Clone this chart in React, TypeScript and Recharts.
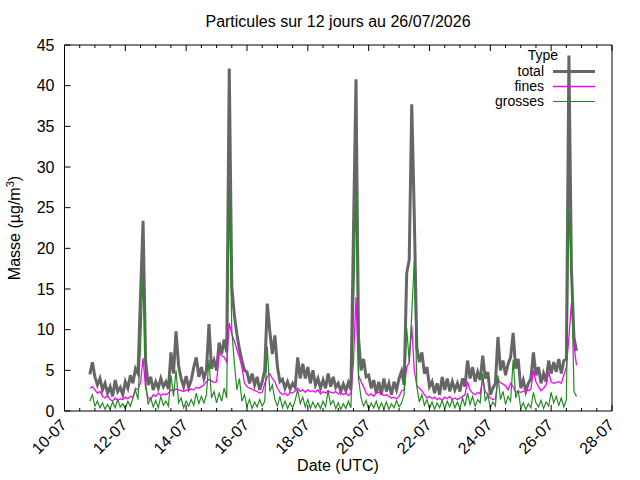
import { LineChart, Line, XAxis, YAxis } from "recharts";

// hours counted from 10-07 00:00 UTC, one reading every 2 hours
const START_HOUR = 20;
const STEP_HOURS = 2;

const TOTAL = [
  4.5, 6.0,
  4.2, 3.2, 4.0, 2.6, 3.4, 2.2, 3.0, 1.8, 3.8, 2.4, 2.9, 2.0,
  3.6, 2.8, 4.4, 3.4, 5.2, 4.6, 14.3, 23.4, 6.2, 3.2, 4.2, 2.6,
  3.6, 2.8, 4.0, 3.0, 3.6, 2.7, 7.2, 4.6, 9.8, 5.6, 4.0, 3.0,
  4.3, 2.9, 3.8, 5.4, 6.6, 4.2, 5.4, 4.0, 5.0, 10.7, 5.2, 6.2,
  5.0, 8.4, 7.0, 8.8, 7.2, 42.1, 15.3, 11.8, 9.5, 7.6, 6.2, 5.0,
  4.8, 3.4, 4.6, 3.2, 4.2, 2.6, 3.6, 5.0, 13.2, 9.8, 7.0, 9.3,
  5.4, 3.6, 3.9, 2.8, 3.6, 2.7, 3.4, 2.9, 6.6, 4.0, 5.8, 4.0,
  5.4, 3.4, 5.0, 3.2, 4.0, 2.8, 3.8, 2.8, 4.6, 3.0, 4.2, 2.9,
  3.4, 2.4, 3.3, 2.5, 3.5, 2.6, 21.9, 40.8, 9.0, 5.0, 6.4, 4.2,
  4.4, 2.8, 3.8, 2.2, 3.6, 2.0, 4.0, 2.4, 3.4, 2.0, 3.6, 2.6,
  4.0, 4.9, 3.2, 16.9, 18.6, 37.7, 24.0, 7.8, 6.0, 7.2, 4.6, 5.4,
  3.0, 3.6, 2.2, 3.4, 2.0, 4.2, 2.6, 4.0, 2.4, 3.6, 2.6, 3.4,
  2.4, 4.0, 3.0, 6.2, 4.0, 5.4, 3.6, 4.8, 3.8, 6.8, 4.0, 4.8,
  2.0, 2.8, 3.4, 9.1, 5.0, 6.2, 4.4, 5.8, 6.6, 9.6, 5.2, 6.4,
  2.8, 3.8, 2.4, 3.4, 4.0, 7.2, 4.4, 5.4, 3.4, 4.6, 3.6, 6.2,
  4.6, 6.0, 4.8, 6.4, 4.6, 6.2, 6.4, 43.7, 17.4, 9.0, 7.4,
];

const FINES = [
  2.8, 3.0,
  2.6, 2.2, 2.4, 1.8, 1.6, 1.9, 1.4, 1.2, 1.6, 1.3, 1.5, 1.4,
  1.7, 1.5, 1.8, 1.7, 2.8, 2.6, 3.5, 6.5, 2.8, 1.6, 1.4, 2.0,
  1.8, 2.2, 1.9, 2.1, 2.0, 2.2, 2.6, 2.5, 2.7, 2.6, 2.5, 2.4,
  2.6, 2.5, 2.7, 2.6, 2.9, 2.8, 3.0, 3.2, 3.6, 3.9, 3.7, 3.5,
  3.6, 7.0, 6.8, 6.6, 6.0, 10.8, 9.5, 8.6, 7.6, 6.6, 5.4, 3.4,
  3.0, 2.8, 2.7, 2.5, 2.4, 2.2, 2.3, 3.4, 4.2, 4.6, 4.0, 3.6,
  2.8, 2.3, 2.0, 2.2, 1.9, 2.3, 2.2, 2.5, 2.8, 2.4, 2.6, 2.3,
  2.6, 2.4, 2.5, 2.3, 2.6, 2.1, 2.4, 2.2, 2.5, 2.3, 2.2, 2.4,
  2.1, 2.3, 2.0, 2.2, 1.9, 2.2, 6.0, 14.0, 4.4, 3.6, 3.0, 2.2,
  1.9, 2.1, 1.8, 2.2, 2.3, 2.1, 1.9, 2.0, 1.8, 1.6, 1.7, 1.5,
  1.8, 2.5, 2.6, 5.4, 6.0, 10.5, 5.0, 3.1, 2.8, 2.5, 2.0, 1.6,
  1.8, 1.5, 1.7, 1.4, 1.6, 1.3, 1.7, 1.5, 1.8, 1.4, 1.6, 1.4,
  1.6, 1.8, 2.0, 3.6, 2.6, 2.2, 2.0, 2.3, 2.1, 4.0, 2.4, 2.0,
  1.6, 1.4, 1.5, 3.9, 3.5, 3.3, 3.1, 2.6, 3.4, 3.0, 2.3, 2.4,
  2.3, 2.4, 2.6, 2.5, 2.7, 5.0, 3.6, 3.0, 2.5, 2.8, 3.2, 4.8,
  3.6, 3.4, 3.5, 3.6, 3.4, 4.4, 5.4, 9.0, 13.3, 8.0, 5.6,
];

const GROSSES = [
  1.2, 2.0,
  0.6, 1.2, 0.4, 1.0, 0.2, 0.8, 0.3, 1.1, 0.4, 1.4, 0.5, 0.9,
  0.3, 1.2, 0.6, 1.6, 2.6, 1.4, 8.0, 16.7, 3.5, 0.8, 1.6, 0.5,
  1.3, 0.4, 1.8, 0.7, 1.2, 0.6, 4.4, 1.8, 5.0, 1.0, 1.6, 0.4,
  1.2, 0.6, 1.4, 0.7, 2.2, 0.9, 1.8, 1.0, 2.0, 6.3, 1.6, 2.4,
  1.0, 2.2, 1.2, 2.8, 1.6, 27.2, 10.0, 5.9, 2.6, 4.0, 1.2, 2.0,
  0.6, 1.4, 0.3, 1.1, 0.5, 1.4, 0.6, 1.2, 7.9, 2.4, 3.2, 1.4,
  0.6, 1.8, 0.4, 1.2, 0.3, 1.0, 0.4, 1.3, 2.6, 0.9, 1.7, 0.5,
  1.4, 0.3, 1.1, 0.4, 1.0, 0.3, 1.2, 0.5, 2.5, 0.8, 1.3, 0.3,
  1.0, 0.2, 0.9, 0.3, 1.2, 0.4, 12.0, 26.8, 4.0, 1.6, 0.6, 1.3,
  0.2, 1.0, 0.4, 1.2, 0.2, 1.0, 0.3, 1.1, 0.2, 0.9, 0.4, 1.3,
  0.5, 1.0, 2.0, 10.2, 6.0, 12.0, 18.4, 3.0, 1.1, 2.0, 0.7, 1.4,
  0.3, 1.1, 0.2, 1.0, 0.4, 1.3, 0.3, 1.2, 0.5, 1.4, 0.4, 1.1,
  0.3, 1.6, 0.6, 2.2, 0.8, 1.8, 0.6, 1.4, 1.0, 4.6, 1.2, 2.0,
  0.4, 1.1, 0.6, 4.4, 1.4, 2.4, 0.8, 1.8, 1.2, 6.3, 1.6, 2.6,
  0.3, 1.0, 0.2, 0.9, 0.4, 2.3, 1.0, 0.5, 1.3, 0.3, 1.1, 0.6,
  2.3, 1.0, 1.8, 0.7, 1.6, 0.5, 1.4, 24.7, 16.9, 2.4, 1.8,
];

const X_TICKS = [
  0, 12, 24, 36, 48, 60, 72, 84, 96, 108, 120, 132, 144, 156, 168, 180, 192,
  204, 216, 228, 240, 252, 264, 276, 288, 300, 312, 324, 336, 348, 360, 372,
  384, 396, 408, 420, 432,
];
const X_LABELS = [
  "10-07", "12-07", "14-07", "16-07", "18-07",
  "20-07", "22-07", "24-07", "26-07", "28-07",
];
const Y_TICKS = [0, 5, 10, 15, 20, 25, 30, 35, 40, 45];

const data = TOTAL.map((total, i) => ({
  t: START_HOUR + i * STEP_HOURS,
  total,
  fines: FINES[i],
  grosses: GROSSES[i],
}));

const FONT = "'Liberation Sans', Arial, sans-serif";
const GRAY = "#666666";
const MAGENTA = "#ff00ff";
const GREEN = "#228b22";

function BottomTick({ x, y, payload }: any) {
  const v = payload.value;
  const major = v % 48 === 0;
  const tx = x + 3;
  const ty = y + 15;
  return (
    <g>
      <line x1={x} y1={y} x2={x} y2={y - (major ? 6 : 3)} stroke="#000" />
      {major && (
        <text
          x={tx}
          y={ty}
          textAnchor="end"
          transform={`rotate(-45 ${tx} ${ty})`}
          fontSize={16}
          fontFamily={FONT}
          fill="#000"
        >
          {X_LABELS[v / 48]}
        </text>
      )}
    </g>
  );
}

function TopTick({ x, y, payload }: any) {
  const major = payload.value % 48 === 0;
  return <line x1={x} y1={y} x2={x} y2={y + (major ? 6 : 3)} stroke="#000" />;
}

function LeftTick({ x, y, payload }: any) {
  return (
    <g>
      <line x1={x} y1={y} x2={x + 6} y2={y} stroke="#000" />
      <text
        x={x - 10}
        y={y + 5.5}
        textAnchor="end"
        fontSize={16}
        fontFamily={FONT}
        fill="#000"
      >
        {payload.value}
      </text>
    </g>
  );
}

function RightTick({ x, y }: any) {
  return <line x1={x} y1={y} x2={x - 6} y2={y} stroke="#000" />;
}

export default function App() {
  return (
    <div style={{ position: "absolute", left: 0, top: 0, width: 640, height: 480, background: "#fff" }}>
      <LineChart
        width={640}
        height={480}
        data={data}
        margin={{ top: 44, right: 27, bottom: 9, left: 4.5 }}
      >
        <XAxis
          xAxisId="b"
          dataKey="t"
          type="number"
          domain={[0, 432]}
          ticks={X_TICKS}
          interval={0}
          height={60}
          tickSize={0}
          tickMargin={0}
          tickLine={false}
          axisLine={{ stroke: "#000" }}
          tick={<BottomTick />}
        />
        <XAxis
          xAxisId="t"
          orientation="top"
          dataKey="t"
          type="number"
          domain={[0, 432]}
          ticks={X_TICKS}
          interval={0}
          height={1}
          tickSize={0}
          tickMargin={0}
          tickLine={false}
          axisLine={{ stroke: "#000" }}
          tick={<TopTick />}
        />
        <YAxis
          yAxisId="l"
          type="number"
          domain={[0, 45]}
          ticks={Y_TICKS}
          interval={0}
          width={60}
          tickSize={0}
          tickMargin={0}
          tickLine={false}
          axisLine={{ stroke: "#000" }}
          tick={<LeftTick />}
        />
        <YAxis
          yAxisId="r"
          orientation="right"
          type="number"
          domain={[0, 45]}
          ticks={Y_TICKS}
          interval={0}
          width={1}
          tickSize={0}
          tickMargin={0}
          tickLine={false}
          axisLine={{ stroke: "#000" }}
          tick={<RightTick />}
        />
        <Line
          xAxisId="b"
          yAxisId="l"
          dataKey="total"
          type="linear"
          stroke={GRAY}
          strokeWidth={3}
          dot={false}
          isAnimationActive={false}
        />
        <Line
          xAxisId="b"
          yAxisId="l"
          dataKey="fines"
          type="linear"
          stroke={MAGENTA}
          strokeWidth={1.3}
          dot={false}
          isAnimationActive={false}
        />
        <Line
          xAxisId="b"
          yAxisId="l"
          dataKey="grosses"
          type="linear"
          stroke={GREEN}
          strokeWidth={1.2}
          dot={false}
          isAnimationActive={false}
        />
      </LineChart>

      {/* title, axis names and key, drawn over the chart */}
      <svg
        width={640}
        height={480}
        style={{ position: "absolute", left: 0, top: 0, pointerEvents: "none" }}
        fontFamily={FONT}
        fontSize={16}
        fill="#000"
      >
        <text x={338} y={26.5} textAnchor="middle">
          Particules sur 12 jours au 26/07/2026
        </text>
        <text x={338} y={471} textAnchor="middle">
          Date (UTC)
        </text>
        <text x={20} y={228} textAnchor="middle" transform="rotate(-90 20 228)">
          Masse (µg/m
          <tspan fontSize={11} dy={-6}>3</tspan>
          <tspan dy={6}>)</tspan>
        </text>

        <g fontSize={14}>
          <text x={558} y={60} textAnchor="end">Type</text>
          <text x={544} y={76} textAnchor="end">total</text>
          <text x={544} y={91} textAnchor="end">fines</text>
          <text x={544} y={106} textAnchor="end">grosses</text>
        </g>
        <line x1={553} y1={71.5} x2={595} y2={71.5} stroke={GRAY} strokeWidth={3} />
        <line x1={553} y1={86.5} x2={595} y2={86.5} stroke={MAGENTA} strokeWidth={1.3} />
        <line x1={553} y1={101.5} x2={595} y2={101.5} stroke={GREEN} strokeWidth={1.2} />
      </svg>
    </div>
  );
}
